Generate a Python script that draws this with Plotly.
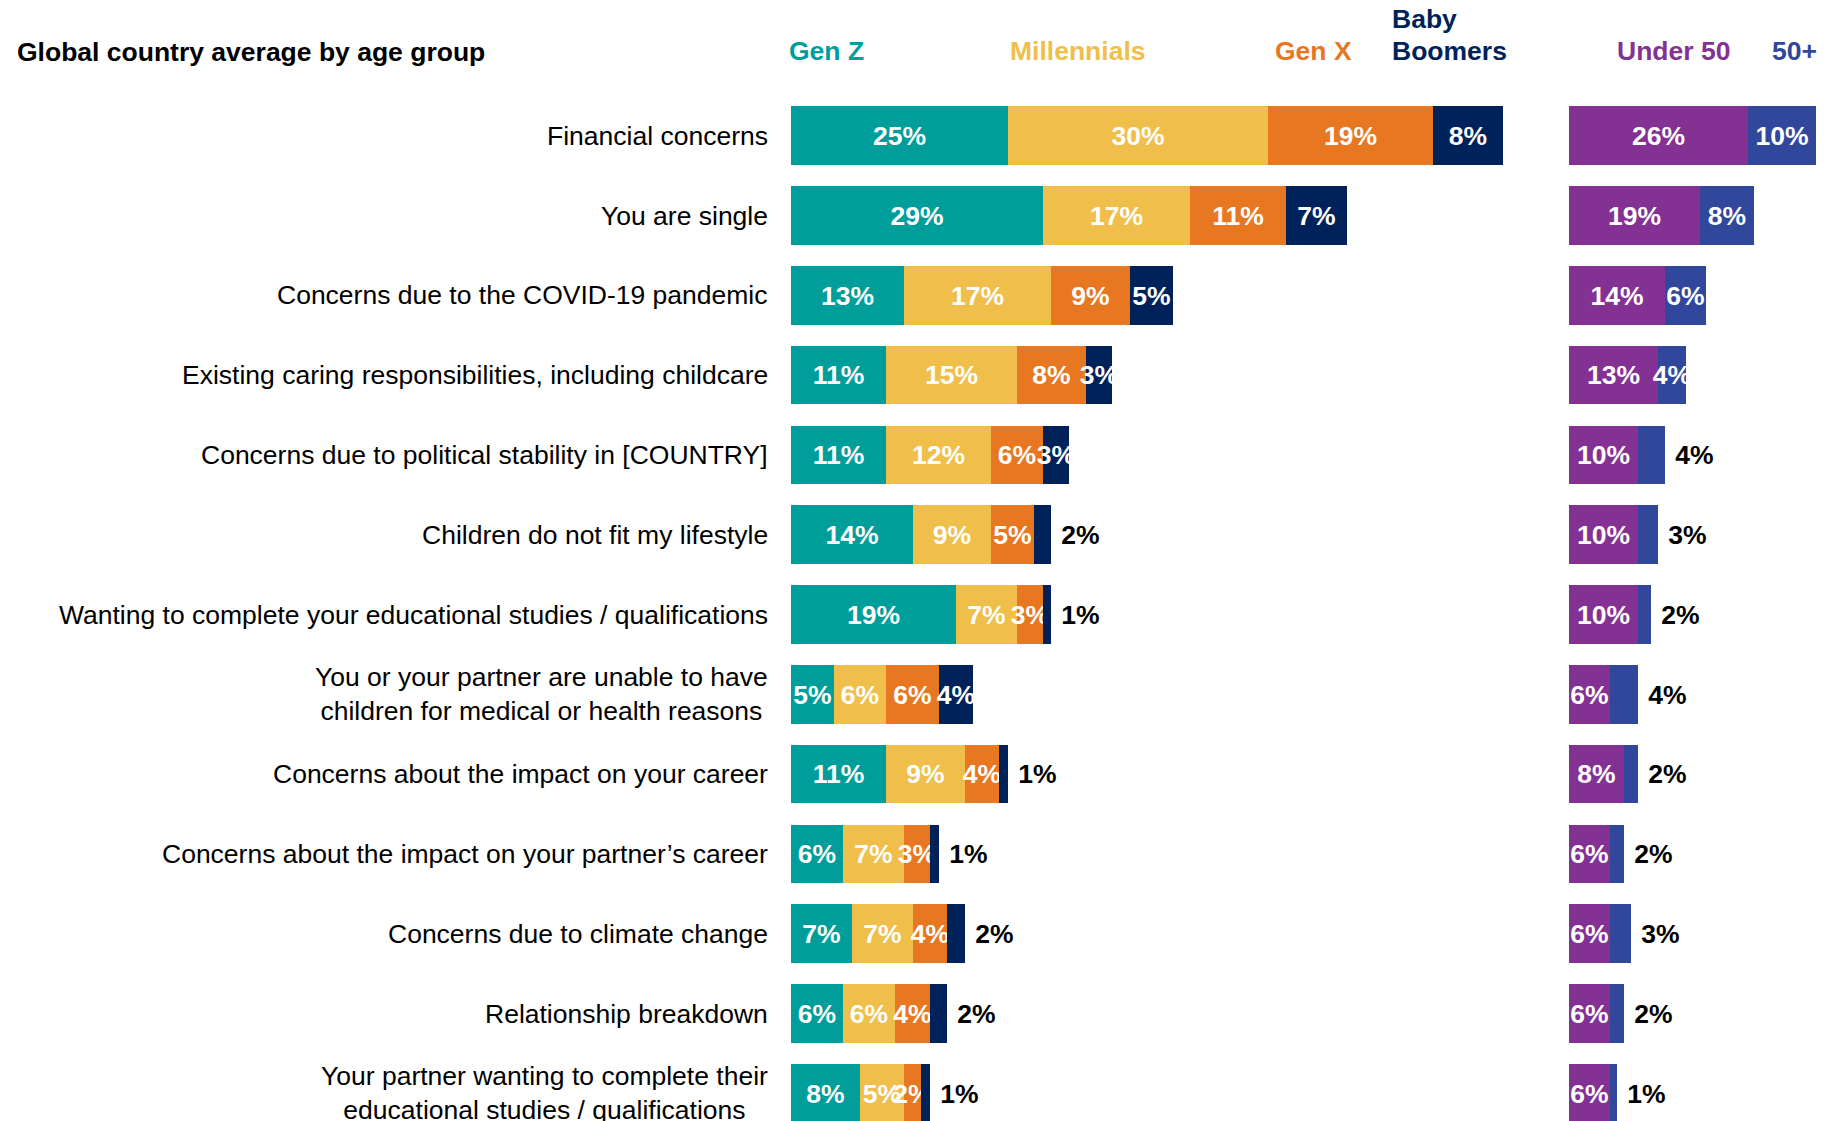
import plotly.graph_objects as go

# ---------------- data ----------------
categories = [
    "Financial concerns",
    "You are single",
    "Concerns due to the COVID-19 pandemic",
    "Existing caring responsibilities, including childcare",
    "Concerns due to political stability in [COUNTRY]",
    "Children do not fit my lifestyle",
    "Wanting to complete your educational studies / qualifications",
    "You or your partner are unable to have<br>children for medical or health reasons",
    "Concerns about the impact on your career",
    "Concerns about the impact on your partner\u2019s career",
    "Concerns due to climate change",
    "Relationship breakdown",
    "Your partner wanting to complete their<br>educational studies / qualifications",
]
gen_z = [25, 29, 13, 11, 11, 14, 19, 5, 11, 6, 7, 6, 8]
millennials = [30, 17, 17, 15, 12, 9, 7, 6, 9, 7, 7, 6, 5]
gen_x = [19, 11, 9, 8, 6, 5, 3, 6, 4, 3, 4, 4, 2]
baby_boomers = [8, 7, 5, 3, 3, 2, 1, 4, 1, 1, 2, 2, 1]
under_50 = [26, 19, 14, 13, 10, 10, 10, 6, 8, 6, 6, 6, 6]
over_50 = [10, 8, 6, 4, 4, 3, 2, 4, 2, 2, 3, 2, 1]

title_text = "Global country average by age group"
age_series = ["Gen Z", "Millennials", "Gen X", "Baby<br>Boomers"]
split_series = ["Under 50", "50+"]

# ---------------- style ----------------
FONT = "Liberation Sans, Arial, Helvetica, sans-serif"
FS = 26.5
PAGE_W, PAGE_H = 1836, 1121
OFF = 8                      # default body margin of the html page
W, H = PAGE_W - OFF, PAGE_H - OFF
C_GENZ = "#009E9A"
C_MILL = "#F0BE4B"
C_GENX = "#E87722"
C_BB = "#00225A"
C_U50 = "#833294"
C_O50 = "#30479B"

LEFT_X0, LEFT_PX = 791, 8.68      # page pixel start, pixels per percent
RIGHT_X0, RIGHT_PX = 1569, 6.87
ROW0, ROW_STEP, BAR_PX = 135.7, 79.8, 58.7
HEADER_Y, HEADER_LINE = 50.7, 31.8
ANN_PAD = 2.5                     # annotation box padding


def px(p):
    return (p - OFF) / W


def py(p):
    return 1 - (p - OFF) / H


left_max = 85
left_domain = [px(LEFT_X0), px(LEFT_X0 + left_max * LEFT_PX)]
right_domain = [px(RIGHT_X0), 1.0]
right_range = [0, (PAGE_W - RIGHT_X0) / RIGHT_PX]
y_top = -(ROW0 - OFF) / ROW_STEP
y_bot = y_top + H / ROW_STEP
bar_w = BAR_PX / ROW_STEP

rows = list(range(len(categories)))
NB = "\u00a0"


def bar(vals, color, xaxis, outside_mask=None):
    if outside_mask is None:
        outside_mask = [False] * len(vals)
    texts = [(NB + f"{v}%") if o else f"{v}%" for v, o in zip(vals, outside_mask)]
    pos = ["outside" if o else "inside" for o in outside_mask]
    return go.Bar(
        x=vals, y=rows, orientation="h", xaxis=xaxis, yaxis="y",
        marker=dict(color=color, line=dict(width=0)),
        width=bar_w,
        text=texts, textposition=pos, insidetextanchor="middle", textangle=0,
        constraintext="none", cliponaxis=False,
        insidetextfont=dict(family=FONT, size=FS, color="white", weight="bold"),
        outsidetextfont=dict(family=FONT, size=FS, color="black", weight="bold"),
        hoverinfo="skip", showlegend=False,
    )


bb_outside = [v <= 2 for v in baby_boomers]
o50_outside = [i >= 4 for i in rows]

fig = go.Figure()
fig.add_trace(bar(gen_z, C_GENZ, "x"))
fig.add_trace(bar(millennials, C_MILL, "x"))
fig.add_trace(bar(gen_x, C_GENX, "x"))
fig.add_trace(bar(baby_boomers, C_BB, "x", bb_outside))
fig.add_trace(bar(under_50, C_U50, "x2"))
fig.add_trace(bar(over_50, C_O50, "x2", o50_outside))

annotations = []
# category labels
for i, c in enumerate(categories):
    annotations.append(dict(
        text=c, xref="paper", x=px(767 + ANN_PAD), xanchor="right",
        yref="y", y=i, yanchor="middle", align="center", showarrow=False,
        font=dict(family=FONT, size=FS, color="black"),
    ))
# title
annotations.append(dict(
    text=title_text, xref="paper", x=px(17.5 - ANN_PAD), xanchor="left",
    yref="paper", y=py(51.7), yanchor="middle", showarrow=False, align="left",
    font=dict(family=FONT, size=FS, color="black", weight="bold"),
))
# series headers (each line placed on its own so the line spacing matches)
header_specs = [
    (age_series[0], 789.3, C_GENZ),
    (age_series[1], 1010.7, C_MILL),
    (age_series[2], 1275.2, C_GENX),
    (age_series[3], 1392.7, C_BB),
    (split_series[0], 1617.3, C_U50),
    (split_series[1], 1772.7, C_O50),
]
for name, xp, col in header_specs:
    lines = name.split("<br>")
    n = len(lines)
    for k, line in enumerate(lines):
        yc = HEADER_Y - (n - 1 - k) * HEADER_LINE
        annotations.append(dict(
            text=line, xref="paper", x=px(xp - ANN_PAD), xanchor="left",
            yref="paper", y=py(yc), yanchor="middle",
            showarrow=False, align="left",
            font=dict(family=FONT, size=FS, color=col, weight="bold"),
        ))

axis_common = dict(showgrid=False, zeroline=False, showticklabels=False,
                   showline=False, ticks="", fixedrange=True)
fig.update_layout(
    width=W, height=H,
    margin=dict(l=0, r=0, t=0, b=0, pad=0),
    barmode="stack", bargap=0,
    paper_bgcolor="white", plot_bgcolor="white",
    xaxis=dict(domain=left_domain, range=[0, left_max], anchor="y", **axis_common),
    xaxis2=dict(domain=right_domain, range=right_range, anchor="y", **axis_common),
    yaxis=dict(range=[y_bot, y_top], domain=[0, 1], anchor="x", **axis_common),
    annotations=annotations,
    showlegend=False,
)

fig.write_html("out.html")
